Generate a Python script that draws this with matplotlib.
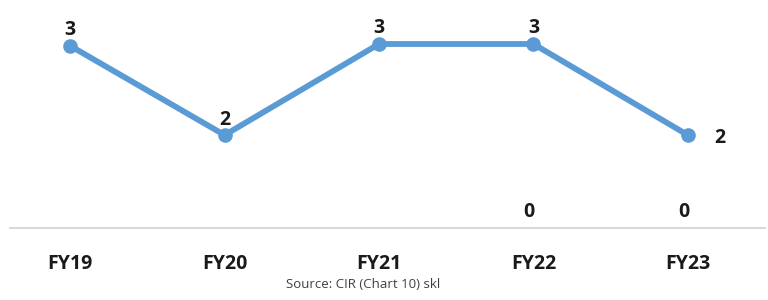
import matplotlib
matplotlib.use("Agg")
import matplotlib.pyplot as plt

categories = ["FY19", "FY20", "FY21", "FY22", "FY23"]
values = [2.94, 1.5, 2.97, 2.97, 1.5]
zero_cats = ["FY22", "FY23"]
zero_values = [0, 0]
source = "Source: CIR (Chart 10) skl"

plt.rcParams['font.family'] = ['Open Sans', 'DejaVu Sans']

fig = plt.figure(figsize=(7.68, 3.0), dpi=100)
ax = fig.add_axes([10/768, 72/300, 755/768, 228/300])

x = list(range(len(categories)))
color = "#5B9BD5"
ax.plot(x, values, color=color, lw=4.2, marker='o', ms=9.5, solid_capstyle='round', zorder=3)

fs = 14
for i, v in enumerate(values):
    lab = f"{round(v + 1e-9):.0f}"
    if i == len(values) - 1:
        ax.annotate(lab, (i, v), xytext=(23, -2), textcoords='offset points',
                    ha='center', va='center', fontsize=fs, fontweight='bold', color='#1a1a1a')
    else:
        ax.annotate(lab, (i, v), xytext=(0, 4), textcoords='offset points',
                    ha='center', va='bottom', fontsize=fs, fontweight='bold', color='#1a1a1a')

for c, v in zip(zero_cats, zero_values):
    i = categories.index(c)
    ax.annotate(f"{v}", (i, v), xytext=(-3, 4), textcoords='offset points',
                ha='center', va='bottom', fontsize=fs, fontweight='bold', color='#1a1a1a')

ax.set_xlim(-0.39, 4.5)
ax.set_ylim(0, 3.68)
ax.set_xticks(x)
ax.set_xticklabels(categories, fontsize=fs, fontweight='bold', color='#1a1a1a')
ax.tick_params(axis='x', length=0, pad=19)
ax.set_yticks([])
for s in ['top', 'right', 'left']:
    ax.spines[s].set_visible(False)
ax.spines['bottom'].set_color('#D9D9D9')
ax.spines['bottom'].set_linewidth(1.5)
ax.patch.set_alpha(0)

fig.text(363/768, 1 - 285/300, source, ha='center', va='center', fontsize=9.5, color='#404040')

fig.savefig("out.png", dpi=100)
